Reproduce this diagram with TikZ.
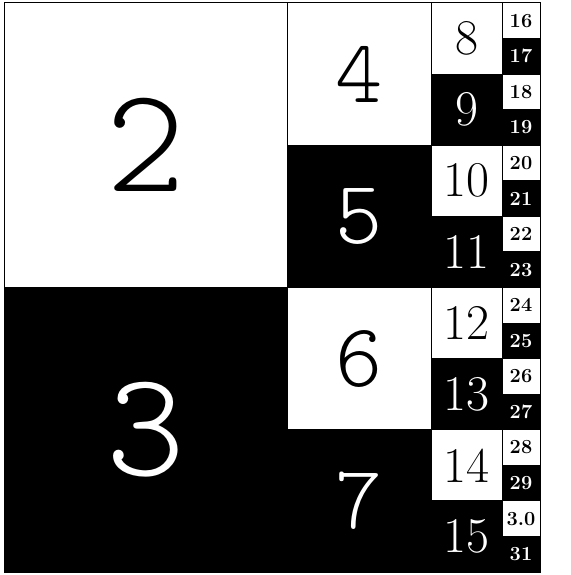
\documentclass[tikz,border=0pt]{standalone}
\usepackage{fontspec}
\usepackage{tikz}
\usetikzlibrary{positioning}

\newfontfamily\thinfont{lmmonolt10-regular.otf}

% fonts for the four columns
\newcommand{\fontA}{\fontsize{150}{152}\thinfont}
\newcommand{\fontB}{\fontsize{90}{92}\thinfont}
\newcommand{\fontC}{\fontsize{50}{52}\rmfamily\addfontfeatures{LetterSpace=12}}
\newcommand{\fontD}{\fontsize{20}{22}\rmfamily\bfseries\addfontfeatures{LetterSpace=10}}

\tikzset{
    cell/.style={rectangle, draw=black, line width=1pt, inner sep=0pt},
    evencell/.style={cell, fill=white, text=black},
    oddcell/.style={cell, fill=black, text=white}
}

\begin{document}
\begin{tikzpicture}[x=1pt, y=-1pt]
\useasboundingbox[fill=white] (0,0) rectangle (570,575);

% Columns of halving cells: 2-3, 4-7, 8-15, 16-31
\foreach \col/\xl/\w/\fnt in {1/4/283/\fontA, 2/287/144/\fontB, 3/431/71/\fontC, 4/502/38/\fontD} {
    \pgfmathtruncatemacro{\cnt}{2^\col}
    \pgfmathsetmacro{\h}{569/\cnt}
    \pgfmathsetmacro{\xc}{\xl+\w/2}

    \foreach \i in {1,...,\cnt} {
        % Number and vertical position
        \pgfmathtruncatemacro{\num}{\cnt+\i-1}
        \pgfmathsetmacro{\yc}{3+(\i-0.5)*\h}
        \def\lab{\num}
        \ifnum\num=30 \def\lab{3.0}\fi

        \ifodd\num
            % black cell
            \node[oddcell, minimum width=\w pt, minimum height=\h pt, font=\fnt] (c\num) at (\xc,\yc) {\lab};
        \else
            % white cell
            \node[evencell, minimum width=\w pt, minimum height=\h pt, font=\fnt] (c\num) at (\xc,\yc) {\lab};
        \fi
    }
}

\end{tikzpicture}
\end{document}
